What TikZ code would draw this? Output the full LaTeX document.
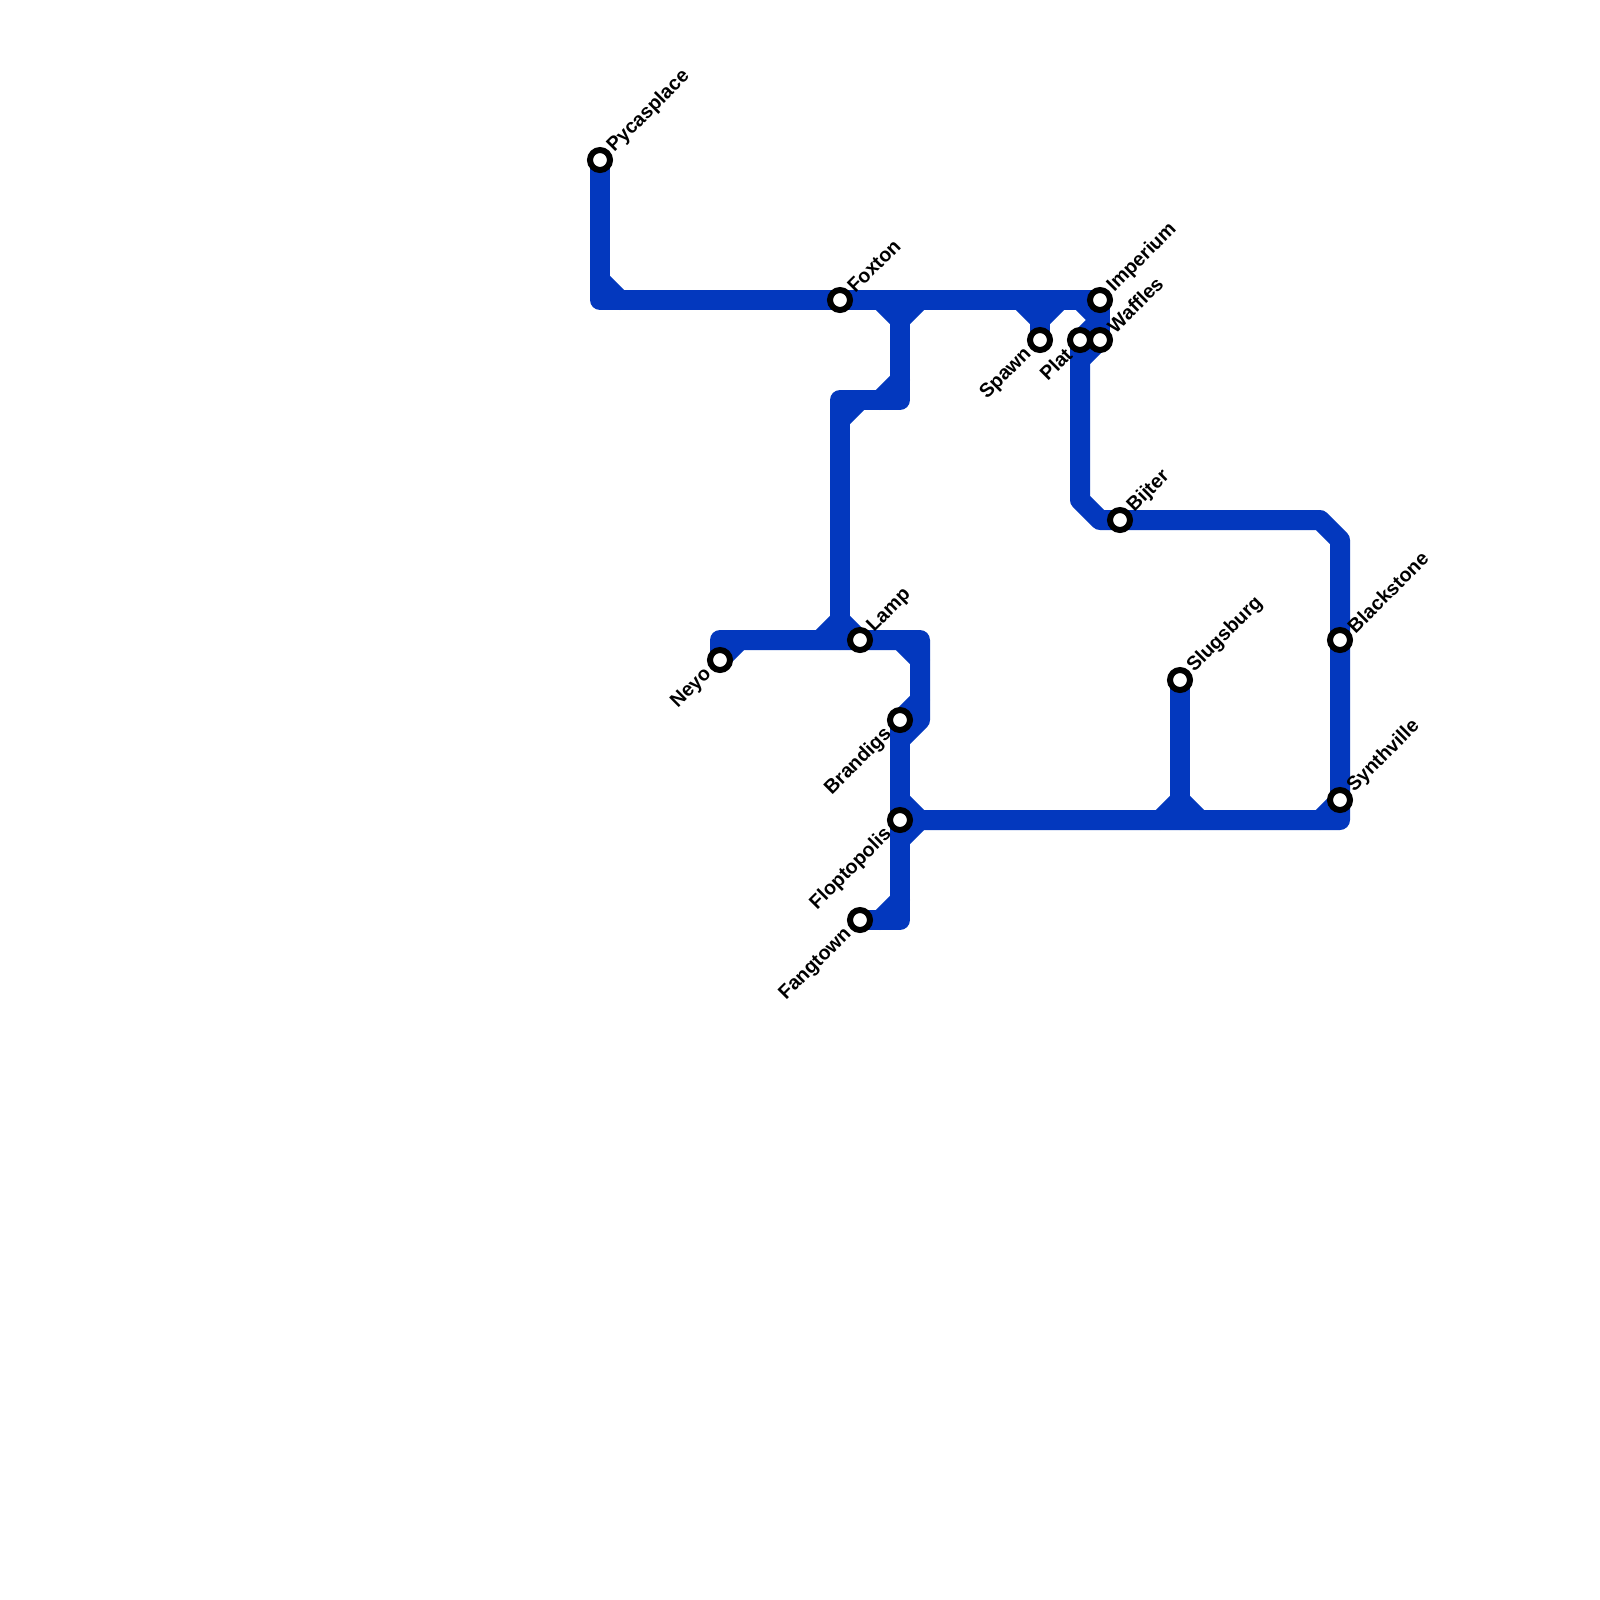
\documentclass[tikz,border=0pt]{standalone}
\usepackage{fontspec}
\setmainfont{Liberation Sans}
\usetikzlibrary{backgrounds}

\definecolor{linecol}{RGB}{3,56,190}

\begin{document}
\begin{tikzpicture}[
    x=0.2cm, y=-0.2cm,
    station/.style={circle, draw=black, fill=white, line width=0.06cm, minimum size=0.2cm, inner sep=0pt},
    tagup/.style={rotate=45, anchor=west, inner sep=0pt, font=\fontsize{5.6pt}{6pt}\selectfont\bfseries, xshift=0.145cm},
    tagdown/.style={rotate=45, anchor=east, inner sep=0pt, font=\fontsize{5.6pt}{6pt}\selectfont\bfseries, xshift=-0.155cm},
    metroline/.style={draw=linecol, line width=0.2cm, line cap=round, line join=round}
  ]
    \useasboundingbox (0,0) rectangle (80,80);

    % stations
    \node[station] (pycasplace) at (30,8) {};
    \node[station] (foxton) at (42,15) {};
    \node[station] (imperium) at (55,15) {};
    \node[station] (waffles) at (55,17) {};
    \node[station] (plat) at (54,17) {};
    \node[station] (spawn) at (52,17) {};
    \node[station] (bijter) at (56,26) {};
    \node[station] (blackstone) at (67,32) {};
    \node[station] (synthville) at (67,40) {};
    \node[station] (slugsburg) at (59,34) {};
    \node[station] (neyo) at (36,33) {};
    \node[station] (lamp) at (43,32) {};
    \node[station] (brandigs) at (45,36) {};
    \node[station] (floptopolis) at (45,41) {};
    \node[station] (fangtown) at (43,46) {};

    % labels
    \node[tagup] (pycasplacetag) at (pycasplace) {Pycasplace};
    \node[tagup] (foxtontag) at (foxton) {Foxton};
    \node[tagup] (imperiumtag) at (imperium) {Imperium};
    \node[tagup] (wafflestag) at (waffles) {Waffles};
    \node[tagdown] (plattag) at (plat) {Plat};
    \node[tagdown] (spawntag) at (spawn) {Spawn};
    \node[tagup] (bijtertag) at (bijter) {Bijter};
    \node[tagup] (blackstonetag) at (blackstone) {Blackstone};
    \node[tagup] (synthvilletag) at (synthville) {Synthville};
    \node[tagup] (slugsburgtag) at (slugsburg) {Slugsburg};
    \node[tagdown] (neyotag) at (neyo) {Neyo};
    \node[tagup] (lamptag) at (lamp) {Lamp};
    \node[tagdown] (brandigstag) at (brandigs) {Brandigs};
    \node[tagdown] (floptopolistag) at (floptopolis) {Floptopolis};
    \node[tagdown] (fangtowntag) at (fangtown) {Fangtown};

    % bends and junctions
    \coordinate (topleft) at (30,15);
    \coordinate (topleftup) at (30,14);
    \coordinate (topleftright) at (31,15);
    \coordinate (crossleft) at (44,15);
    \coordinate (crossmid) at (45,15);
    \coordinate (crossright) at (46,15);
    \coordinate (crossdown) at (45,16);
    \coordinate (stepright) at (45,20);
    \coordinate (stepup) at (45,19);
    \coordinate (stepleft) at (44,20);
    \coordinate (stepcorner) at (42,20);
    \coordinate (stepin) at (43,20);
    \coordinate (stepdown) at (42,21);
    \coordinate (lampup) at (42,31);
    \coordinate (lampjoin) at (42,32);
    \coordinate (lampleft) at (41,32);
    \coordinate (neyocorner) at (36,32);
    \coordinate (neyoright) at (37,32);
    \coordinate (eastcorner) at (46,32);
    \coordinate (eastleft) at (45,32);
    \coordinate (eastdown) at (46,33);
    \coordinate (eastmid) at (46,35);
    \coordinate (eastend) at (46,36);
    \coordinate (brandigsdown) at (45,37);
    \coordinate (floptoup) at (45,40);
    \coordinate (floptodown) at (45,42);
    \coordinate (floptoright) at (46,41);
    \coordinate (southcorner) at (45,46);
    \coordinate (southup) at (45,45);
    \coordinate (southleft) at (44,46);
    \coordinate (spawnleft) at (51,15);
    \coordinate (spawntop) at (52,15);
    \coordinate (spawnright) at (53,15);
    \coordinate (spawnmid) at (52,16);
    \coordinate (imperiumleft) at (54,15);
    \coordinate (imperiumdown) at (55,16);
    \coordinate (platdown) at (54,18);
    \coordinate (platturn) at (54,25);
    \coordinate (bijterturn) at (55,26);
    \coordinate (farturn) at (66,26);
    \coordinate (fardown) at (67,27);
    \coordinate (farcorner) at (67,41);
    \coordinate (farleft) at (66,41);
    \coordinate (slugsbase) at (59,41);
    \coordinate (slugsup) at (59,40);
    \coordinate (slugsleft) at (58,41);
    \coordinate (slugsright) at (60,41);

    % lines
    \begin{scope}[on background layer]
      \draw[metroline] (pycasplace.center) -- (topleft) -- (imperium.center) -- (waffles.center);
      \draw[metroline] (topleftup) -- (topleftright);
      \draw[metroline] (crossmid) -- (stepright) -- (stepcorner) -- (lampjoin);
      \draw[metroline] (crossleft) -- (crossdown) -- (crossright);
      \draw[metroline] (stepup) -- (stepleft);
      \draw[metroline] (stepdown) -- (stepin);
      \draw[metroline] (neyo.center) -- (neyocorner) -- (eastcorner) -- (eastend) -- (brandigsdown);
      \draw[metroline] (neyo.center) -- (neyoright);
      \draw[metroline] (lampleft) -- (lampup) -- (lamp.center);
      \draw[metroline] (eastleft) -- (eastdown);
      \draw[metroline] (eastmid) -- (brandigs.center);
      \draw[metroline] (brandigs.center) -- (southcorner) -- (fangtown.center);
      \draw[metroline] (southup) -- (southleft);
      \draw[metroline] (floptoup) -- (floptoright) -- (floptodown);
      \draw[metroline] (spawntop) -- (spawn.center);
      \draw[metroline] (spawnleft) -- (spawnmid) -- (spawnright);
      \draw[metroline] (imperiumleft) -- (imperiumdown) -- (plat.center);
      \draw[metroline] (waffles.center) -- (platdown);
      \draw[metroline] (plat.center) -- (platturn) -- (bijterturn) -- (farturn) -- (fardown) -- (farcorner) -- (floptopolis.center);
      \draw[metroline] (farleft) -- (synthville.center);
      \draw[metroline] (slugsburg.center) -- (slugsbase);
      \draw[metroline] (slugsleft) -- (slugsup) -- (slugsright);
    \end{scope}
  \end{tikzpicture}
\end{document}
